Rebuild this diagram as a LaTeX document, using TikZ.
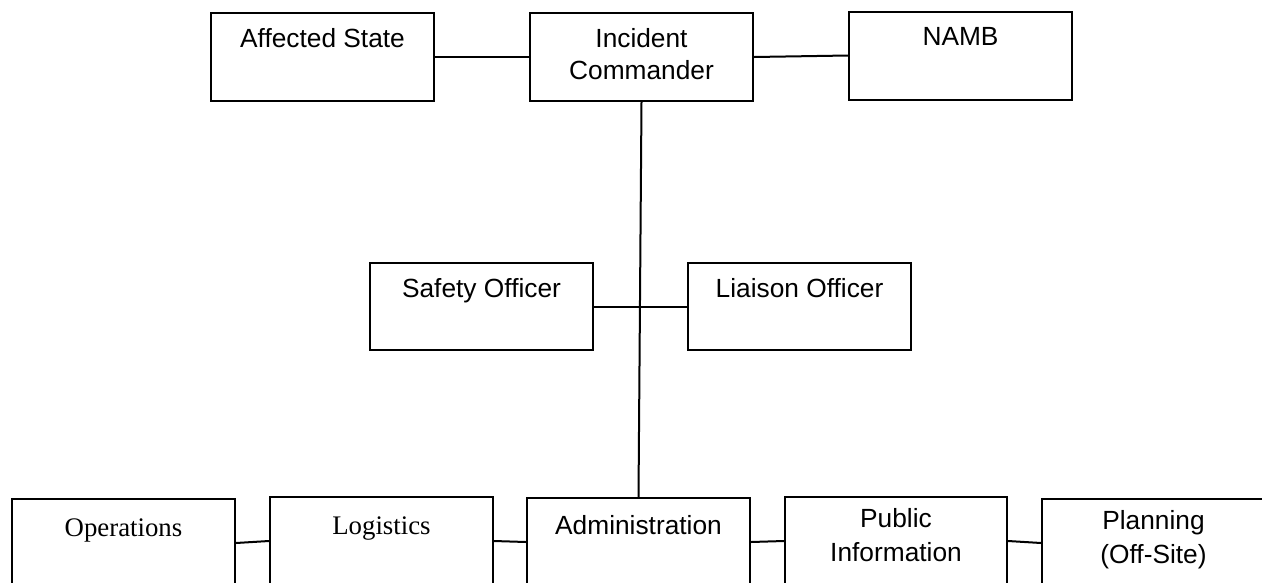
\documentclass[tikz,border=0pt]{standalone}
\usepackage{fontspec}
\setmainfont{Liberation Sans}
\newfontfamily\seriffont{Liberation Serif}
\begin{document}
\begin{tikzpicture}[x=1pt,y=-1pt,
  box/.style={draw=black, line width=2pt, minimum width=223pt, minimum height=88pt, inner sep=0pt, fill=white},
  link/.style={draw=black, line width=2pt},
  lbl/.style={anchor=base, inner sep=0pt, align=center, font=\fontsize{26.3}{32}\selectfont},
  lbltwo/.style={lbl, font=\fontsize{26.3}{34}\selectfont},
  slbl/.style={lbl, font=\fontsize{26.8}{33}\seriffont}]
  \useasboundingbox (0,0) rectangle (1262,582);

  % command level
  \node[box] (as)   at (322.5,57)   {};
  \node[box] (ic)   at (641.5,57)   {};
  \node[box] (namb) at (960.5,55.5) {};

  % command staff
  \node[box, minimum height=87pt] (so) at (481.5,306.5) {};
  \node[box, minimum height=87pt] (lo) at (799.5,306.5) {};

  % sections
  \node[box] (ops) at (123.5,543)  {};
  \node[box] (log) at (381.5,541)  {};
  \node[box] (adm) at (638.5,542)  {};
  \node[box, minimum width=222pt] (pi)  at (896,541) {};
  \node[box] (pl)  at (1153.5,543) {};

  % connectors
  \draw[link] (ic.south) -- (adm.north);
  \draw[link] (as.east) -- (ic.west);
  \draw[link] (ic.east) -- (namb.west);
  \draw[link] (so.east) -- (lo.west);
  \draw[link] (ops.east) -- (log.west);
  \draw[link] (log.east) -- (adm.west);
  \draw[link] (adm.east) -- (pi.west);
  \draw[link] (pi.east) -- (pl.west);

  % labels (base anchor = baseline of the last line)
  \node[lbl] (tas)   at ([yshift=-35pt]as.north)   {Affected State};
  \node[lbl] (tic)   at ([yshift=-67pt]ic.north)   {Incident\\Commander};
  \node[lbl] (tnamb) at ([yshift=-35pt]namb.north) {NAMB};
  \node[lbl] (tso)   at ([yshift=-35pt]so.north)   {Safety Officer};
  \node[lbl] (tlo)   at ([yshift=-35pt]lo.north)   {Liaison Officer};
  \node[slbl] (tops) at ([yshift=-38pt]ops.north)  {Operations};
  \node[slbl] (tlog) at ([yshift=-38pt]log.north)  {Logistics};
  \node[lbl] (tadm)  at ([yshift=-37pt]adm.north)  {Administration};
  \node[lbltwo] (tpi) at ([yshift=-65pt]pi.north)  {Public\\Information};
  \node[lbltwo] (tpl) at ([yshift=-65pt]pl.north)  {Planning\\(Off-Site)};
\end{tikzpicture}
\end{document}
